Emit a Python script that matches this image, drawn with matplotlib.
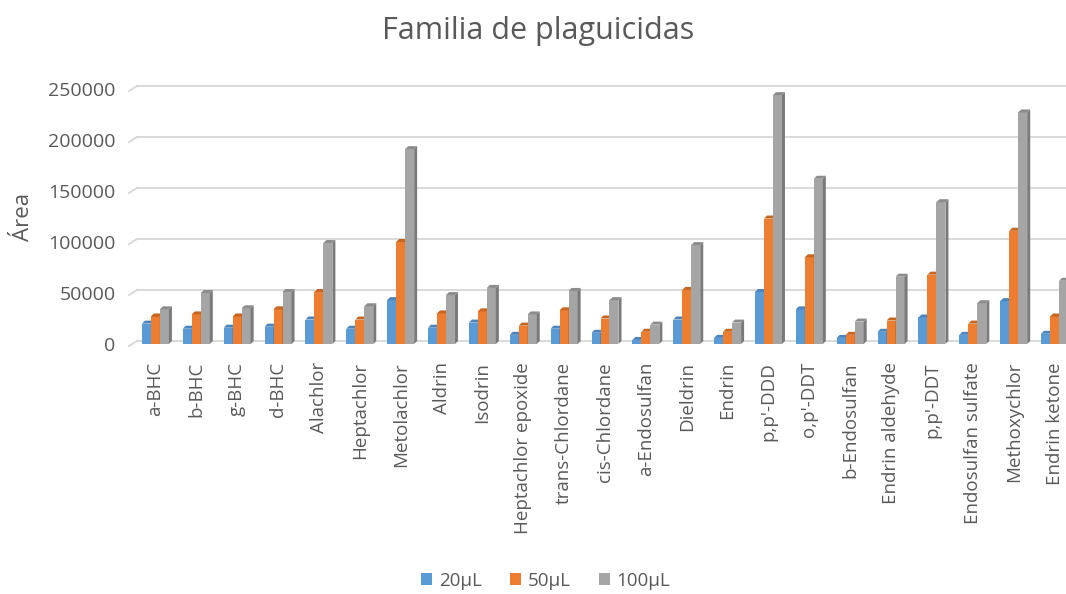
import numpy as np
import matplotlib
matplotlib.use("Agg")
import matplotlib.pyplot as plt
from matplotlib.patches import Polygon, Patch
from matplotlib.lines import Line2D
from matplotlib.transforms import IdentityTransform

compounds = ["a-BHC", "b-BHC", "g-BHC", "d-BHC", "Alachlor", "Heptachlor",
             "Metolachlor", "Aldrin", "Isodrin", "Heptachlor epoxide",
             "trans-Chlordane", "cis-Chlordane", "a-Endosulfan", "Dieldrin",
             "Endrin", "p,p'-DDD", "o,p'-DDT", "b-Endosulfan",
             "Endrin aldehyde", "p,p'-DDT", "Endosulfan sulfate",
             "Methoxychlor", "Endrin ketone"]

vol_20 = [20000, 15000, 16000, 17000, 24000, 15000, 43000, 16000, 21000, 9000,
          15000, 11000, 4000, 24000, 6000, 51000, 34000, 6000, 12000, 26000,
          9000, 42000, 10000]
vol_50 = [27000, 29000, 27000, 34000, 51000, 24000, 100000, 30000, 32000, 18000,
          33000, 25000, 12000, 53000, 12000, 123000, 85000, 9000, 23000, 68000,
          20000, 111000, 27000]
vol_100 = [34000, 50000, 35000, 51000, 99000, 37000, 191000, 48000, 55000, 29000,
           52000, 43000, 19000, 97000, 21000, 244000, 162000, 22000, 66000, 139000,
           40000, 227000, 62000]

series_labels = ["20µL", "50µL", "100µL"]
yticks = [0, 50000, 100000, 150000, 200000, 250000]

front = ["#5B9BD5", "#ED7D31", "#A5A5A5"]
side = ["#41719C", "#AE5A21", "#7A7A7A"]
top = ["#4A85BD", "#C8651F", "#8C8C8C"]

text_col = "#595959"
grid_col = "#d9d9d9"
plt.rcParams["font.family"] = ["Open Sans", "DejaVu Sans"]

W, H, DPI = 1066, 594, 100
fig = plt.figure(figsize=(W / DPI, H / DPI), dpi=DPI)
ax = fig.add_axes([135 / W, 1 - 344 / H, 940 / W, (344 - 89) / H])

n = len(compounds)
x = np.arange(n)
bw = 0.22
ax.set_xlim(-0.5, n - 0.5)
ax.set_ylim(0, 250000)

# back-wall gridlines, raised a few pixels behind the bars, with a short
# slanted floor segment at the left end
depth = 3.0
for yv in yticks:
    (gx0, gy), = ax.transData.transform([(-0.5, yv)])
    gy += depth
    ax.add_line(Line2D([gx0 + 2, W], [gy, gy], color=grid_col, lw=1.4,
                       transform=IdentityTransform(), zorder=0, clip_on=False))
    ax.add_line(Line2D([gx0 - 6, gx0 + 2], [gy - 5, gy], color=grid_col, lw=1.4,
                       transform=IdentityTransform(), zorder=0, clip_on=False))

series = [vol_20, vol_50, vol_100]
for k, vals in enumerate(series):
    xs = x + (k - 1) * bw
    ax.bar(xs, vals, width=bw, color=front[k], zorder=3 + k, linewidth=0)
    for xc, v in zip(xs, vals):
        (x0, y0), (x1, y1) = ax.transData.transform([(xc - bw / 2, 0), (xc + bw / 2, v)])
        side_pts = [(x1, y0), (x1, y1), (x1 + depth, y1 + depth), (x1 + depth, y0 + depth)]
        top_pts = [(x0, y1), (x1, y1), (x1 + depth, y1 + depth), (x0 + depth, y1 + depth)]
        ax.add_patch(Polygon(side_pts, closed=True, transform=IdentityTransform(),
                             facecolor=side[k], edgecolor="none", zorder=3 + k))
        ax.add_patch(Polygon(top_pts, closed=True, transform=IdentityTransform(),
                             facecolor=top[k], edgecolor="none", zorder=3 + k))

for s in ax.spines.values():
    s.set_visible(False)
ax.set_yticks(yticks)
ax.set_yticklabels([str(v) for v in yticks])
ax.set_xticks(x)
ax.set_xticklabels(compounds, rotation=90)
ax.tick_params(axis="both", length=0, colors=text_col)
ax.tick_params(axis="y", labelsize=14, pad=14)
ax.tick_params(axis="x", labelsize=13.5, pad=13)
ax.set_ylabel("Área", fontsize=16, color=text_col, labelpad=10)

fig.text(0.505, 1 - 39 / H, "Familia de plaguicidas", ha="center", va="baseline",
         fontsize=22, color=text_col)

handles = [Patch(facecolor=c, edgecolor="none") for c in front]
fig.legend(handles, series_labels, loc="center", bbox_to_anchor=(0.512, 0.022),
           ncol=3, frameon=False, fontsize=13.5, labelcolor=text_col,
           handlelength=0.6, handleheight=0.6, handletextpad=0.35, columnspacing=1.5)

fig.savefig("out.png", dpi=DPI, facecolor="white")
